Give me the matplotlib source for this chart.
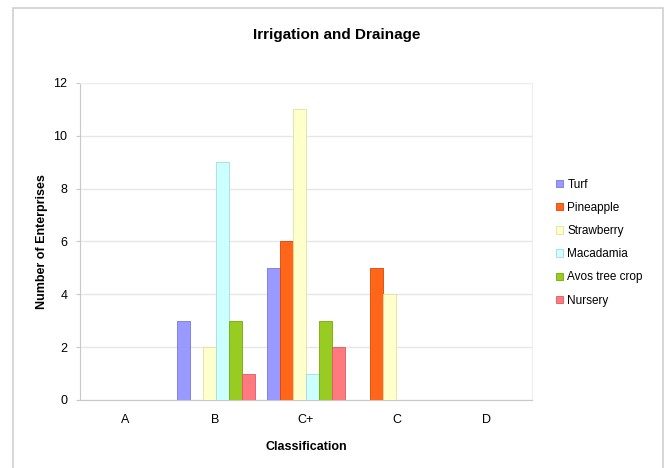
import matplotlib
matplotlib.use("Agg")
import matplotlib.pyplot as plt
from matplotlib.patches import Rectangle
import numpy as np

plt.rcParams['font.family'] = ['Liberation Sans', 'DejaVu Sans']

categories = ["A", "B", "C+", "C", "D"]
series_names = ["Turf", "Pineapple", "Strawberry", "Macadamia", "Avos tree crop", "Nursery"]
turf = [0, 3, 5, 0, 0]
pineapple = [0, 0, 6, 5, 0]
strawberry = [0, 2, 11, 4, 0]
macadamia = [0, 9, 1, 0, 0]
avos = [0, 3, 3, 0, 0]
nursery = [0, 1, 2, 0, 0]
yticks = [0, 2, 4, 6, 8, 10, 12]

series = [turf, pineapple, strawberry, macadamia, avos, nursery]
colors = ["#9999FF", "#FF6619", "#FFFFCC", "#CCFFFF", "#99CC22", "#FF7A80"]
edges = ["#7777DD", "#DD4400", "#E0E0A0", "#A0DDDD", "#77AA00", "#DD5A60"]

fig = plt.figure(figsize=(6.67, 4.68), dpi=100)
fig.patch.set_facecolor("white")
fig.add_artist(Rectangle((13/667, -0.01), 650/667, 1 - 8/468 + 0.01, transform=fig.transFigure,
                         fill=False, edgecolor="#D0D0D0", linewidth=1.2))

ax = fig.add_axes([80/667, 1 - 400/468, (532 - 80)/667, (400 - 83)/468])
x = np.arange(len(categories))
w = 0.144
for i, (vals, name) in enumerate(zip(series, series_names)):
    offs = (i - 2.5) * w
    ax.bar(x + offs, vals, width=w, color=colors[i], edgecolor=edges[i], linewidth=0.6,
           label=name, zorder=3)

ax.set_xlim(-0.5, len(categories) - 0.5)
ax.set_ylim(0, 12)
ax.set_yticks(yticks)
ax.set_yticklabels([str(v) for v in yticks], fontsize=9)
ax.set_xticks(x)
ax.set_xticklabels(categories, fontsize=9)
ax.yaxis.grid(True, color="#E6E6E6", linewidth=1, zorder=0)
ax.set_axisbelow(True)
for s in ["top", "right"]:
    ax.spines[s].set_color("#EEEEEE")
for s in ["left", "bottom"]:
    ax.spines[s].set_color("#C8C8C8")
ax.tick_params(axis="both", length=3, color="#C8C8C8", pad=6)
ax.tick_params(axis="x", length=0, pad=10)

ax.set_xlabel("Classification", fontsize=9, fontweight="bold", labelpad=11)
ax.set_ylabel("Number of Enterprises", fontsize=9, fontweight="bold", labelpad=4)
fig.text(337/667, 1 - 35/468, "Irrigation and Drainage", ha="center", va="center",
         fontsize=11, fontweight="bold")

leg = ax.legend(loc="upper left", bbox_to_anchor=(545/667, 1 - 168/468),
                bbox_transform=fig.transFigure, frameon=False, fontsize=8.5,
                handlelength=0.6, handleheight=0.6, handletextpad=0.4, labelspacing=0.95)

fig.savefig("out.png", dpi=100)
